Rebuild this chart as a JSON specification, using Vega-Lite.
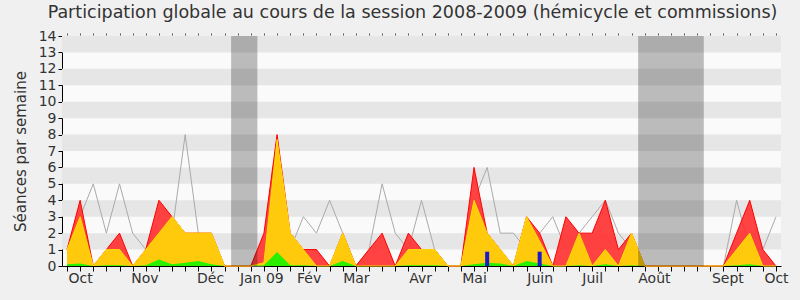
{
  "$schema": "https://vega.github.io/schema/vega-lite/v6.json",
  "width": 719,
  "height": 230,
  "autosize": {"type": "none"},
  "padding": {"left": 62, "top": 36, "right": 19, "bottom": 34},
  "background": "#f0f0f0",
  "config": {
    "font": "DejaVu Sans",
    "view": {"stroke": null, "fill": "#fafafa"},
    "axis": {"labelColor": "#333333", "titleColor": "#333333", "labelFont": "DejaVu Sans", "titleFont": "DejaVu Sans"}
  },
  "title": {
    "text": "Participation globale au cours de la session 2008-2009 (hémicycle et commissions)",
    "fontSize": 17.5,
    "fontWeight": "normal",
    "color": "#333333",
    "anchor": "middle",
    "dx": -9,
    "offset": 8
  },
  "datasets": {
    "weeks": [
      {"w": 0, "r": 1, "y": 1, "g": 0.1, "m": 1},
      {"w": 1, "r": 4, "y": 3, "g": 0.15, "m": 3},
      {"w": 2, "r": 0, "y": 0, "g": 0, "m": 5},
      {"w": 3, "r": 1, "y": 1, "g": 0.05, "m": 2},
      {"w": 4, "r": 2, "y": 1, "g": 0.05, "m": 5},
      {"w": 5, "r": 0, "y": 0, "g": 0, "m": 2},
      {"w": 6, "r": 1, "y": 1, "g": 0.05, "m": 1},
      {"w": 7, "r": 4, "y": 2, "g": 0.4, "m": 3},
      {"w": 8, "r": 3, "y": 3, "g": 0.1, "m": 2},
      {"w": 9, "r": 2, "y": 2, "g": 0.2, "m": 8},
      {"w": 10, "r": 2, "y": 2, "g": 0.3, "m": 2},
      {"w": 11, "r": 2, "y": 2, "g": 0.1, "m": 1},
      {"w": 12, "r": 0, "y": 0, "g": 0, "m": 0},
      {"w": 13, "r": 0, "y": 0, "g": 0, "m": 0},
      {"w": 14, "r": 0, "y": 0, "g": 0, "m": 0},
      {"w": 15, "r": 2, "y": 0.2, "g": 0.05, "m": 0},
      {"w": 16, "r": 8, "y": 7.7, "g": 0.85, "m": 2},
      {"w": 17, "r": 2, "y": 2, "g": 0.05, "m": 1},
      {"w": 18, "r": 1, "y": 1, "g": 0.05, "m": 3},
      {"w": 19, "r": 1, "y": 0, "g": 0, "m": 2},
      {"w": 20, "r": 0, "y": 0, "g": 0, "m": 4},
      {"w": 21, "r": 2, "y": 2, "g": 0.3, "m": 2},
      {"w": 22, "r": 0, "y": 0, "g": 0, "m": 0},
      {"w": 23, "r": 1, "y": 0, "g": 0, "m": 1},
      {"w": 24, "r": 2, "y": 0, "g": 0, "m": 5},
      {"w": 25, "r": 0, "y": 0, "g": 0, "m": 2},
      {"w": 26, "r": 2, "y": 1, "g": 0.05, "m": 1},
      {"w": 27, "r": 1, "y": 1, "g": 0.05, "m": 4},
      {"w": 28, "r": 1, "y": 1, "g": 0.05, "m": 1},
      {"w": 29, "r": 0, "y": 0, "g": 0, "m": 0},
      {"w": 30, "r": 0, "y": 0, "g": 0, "m": 0},
      {"w": 31, "r": 6, "y": 4, "g": 0.1, "m": 4},
      {"w": 32, "r": 2, "y": 2, "g": 0.2, "m": 6},
      {"w": 33, "r": 1, "y": 1, "g": 0.15, "m": 2},
      {"w": 34, "r": 0, "y": 0, "g": 0, "m": 2},
      {"w": 35, "r": 3, "y": 3, "g": 0.3, "m": 1},
      {"w": 36, "r": 2, "y": 1.5, "g": 0.15, "m": 2},
      {"w": 37, "r": 0, "y": 0, "g": 0, "m": 3},
      {"w": 38, "r": 3, "y": 0, "g": 0, "m": 1},
      {"w": 39, "r": 2, "y": 2, "g": 0.05, "m": 2},
      {"w": 40, "r": 2, "y": 0, "g": 0, "m": 3},
      {"w": 41, "r": 4, "y": 1, "g": 0.1, "m": 4},
      {"w": 42, "r": 1, "y": 0, "g": 0, "m": 2},
      {"w": 43, "r": 2, "y": 2, "g": 0.05, "m": 1},
      {"w": 44, "r": 0, "y": 0, "g": 0, "m": 0},
      {"w": 45, "r": 0, "y": 0, "g": 0, "m": 0},
      {"w": 46, "r": 0, "y": 0, "g": 0, "m": 0},
      {"w": 47, "r": 0, "y": 0, "g": 0, "m": 0},
      {"w": 48, "r": 0, "y": 0, "g": 0, "m": 0},
      {"w": 49, "r": 0, "y": 0, "g": 0, "m": 0},
      {"w": 50, "r": 0, "y": 0, "g": 0, "m": 0},
      {"w": 51, "r": 2, "y": 1, "g": 0.05, "m": 4},
      {"w": 52, "r": 4, "y": 2, "g": 0.1, "m": 1},
      {"w": 53, "r": 1, "y": 0, "g": 0, "m": 1},
      {"w": 54, "r": 0, "y": 0, "g": 0, "m": 3}
    ],
    "stripes": [
      {"v": 1, "v2": 2}, {"v": 3, "v2": 4}, {"v": 5, "v2": 6}, {"v": 7, "v2": 8},
      {"v": 9, "v2": 10}, {"v": 11, "v2": 12}, {"v": 13, "v2": 14}
    ],
    "vacances": [
      {"s": 12.5, "e": 14.5},
      {"s": 43.5, "e": 48.5}
    ],
    "questions": [
      {"w": 32, "v": 0.87},
      {"w": 36, "v": 0.87}
    ]
  },
  "layer": [
    {
      "encoding": {
        "y": {
          "field": "v",
          "type": "quantitative",
          "scale": {"domain": [0, 14], "nice": false},
          "axis": {"values": [0,1,2,3,4,5,6,7,8,9,10,11,12,13,14], "grid": false, "tickSize": 4, "tickColor": "#000000", "domainColor": "#000000", "labelFontSize": 14, "labelPadding": 2, "labelOverlap": false, "labelFlush": false, "title": "Séances par semaine", "titleFontSize": 15, "titleFontWeight": "normal", "titlePadding": 10}
        }
      },
      "layer": [
        {
          "data": {"name": "stripes"},
          "mark": {"type": "rect", "color": "#e6e6e6"},
          "encoding": {
            "y2": {"field": "v2"}
          }
        },
        {
          "data": {"name": "weeks"},
          "transform": [{"fold": ["m"], "as": ["k", "v"]}],
          "mark": {"type": "line", "color": "#aaaaaa", "strokeWidth": 1},
          "encoding": {
            "x": {"field": "w", "type": "quantitative", "scale": {"domain": [0, 54], "nice": false, "zero": false}, "axis": {"orient": "top", "values": [0,1,2,3,4,5,6,7,8,9,10,11,12,13,14,15,16,17,18,19,20,21,22,23,24,25,26,27,28,29,30,31,32,33,34,35,36,37,38,39,40,41,42,43,44,45,46,47,48,49,50,51,52,53,54], "labels": false, "domain": false, "tickSize": 2, "tickColor": "#555555", "grid": false, "title": null, "offset": 1}}
          }
        },
        {
          "data": {"name": "weeks"},
          "transform": [{"fold": ["r"], "as": ["k", "v"]}],
          "mark": {"type": "area", "color": "#ff3333", "opacity": 0.92, "line": {"color": "#ff0000", "strokeWidth": 1}},
          "encoding": {
            "x": {"field": "w", "type": "quantitative", "axis": {"orient": "bottom", "values": [0,1,2,3,4,5,6,7,8,9,10,11,12,13,14,15,16,17,18,19,20,21,22,23,24,25,26,27,28,29,30,31,32,33,34,35,36,37,38,39,40,41,42,43,44,45,46,47,48,49,50,51,52,53,54], "labels": false, "tickSize": 5, "tickColor": "#000000", "domainColor": "#000000", "grid": false, "title": null}}
          }
        },
        {
          "data": {"name": "weeks"},
          "transform": [{"fold": ["y"], "as": ["k", "v"]}],
          "mark": {"type": "area", "color": "#ffd20a", "opacity": 0.95, "line": {"color": "#ffdd00", "strokeWidth": 1}},
          "encoding": {
            "x": {"field": "w", "type": "quantitative", "axis": {"orient": "bottom", "values": [1, 5.9, 10.9, 14.8, 18.4, 22, 26.9, 31, 36, 40, 44.7, 50.3, 54], "labelExpr": "{'1':'Oct','5.9':'Nov','10.9':'Déc','14.8':'Jan 09','18.4':'Fév','22':'Mar','26.9':'Avr','31':'Mai','36':'Juin','40':'Juil','44.7':'Août','50.3':'Sept','54':'Oct'}[datum.value + '']", "tickSize": 0, "domain": false, "labelFontSize": 14, "labelPadding": 5, "labelFlush": false, "labelOverlap": false, "grid": false, "title": null}}
          }
        },
        {
          "data": {"name": "weeks"},
          "transform": [{"fold": ["g"], "as": ["k", "v"]}],
          "mark": {"type": "area", "color": "#2af000"},
          "encoding": {
            "x": {"field": "w", "type": "quantitative", "axis": null}
          }
        },
        {
          "data": {"name": "questions"},
          "mark": {"type": "bar", "color": "#1a1acc", "size": 4},
          "encoding": {
            "x": {"field": "w", "type": "quantitative", "axis": null}
          }
        }
      ],
      "resolve": {"axis": {"x": "independent"}}
    },
    {
      "data": {"name": "vacances"},
      "mark": {"type": "rect", "color": "#000000", "opacity": 0.25},
      "encoding": {
        "x": {"field": "s", "type": "quantitative", "axis": null},
        "x2": {"field": "e"}
      }
    }
  ],
  "resolve": {"axis": {"x": "independent"}}
}
